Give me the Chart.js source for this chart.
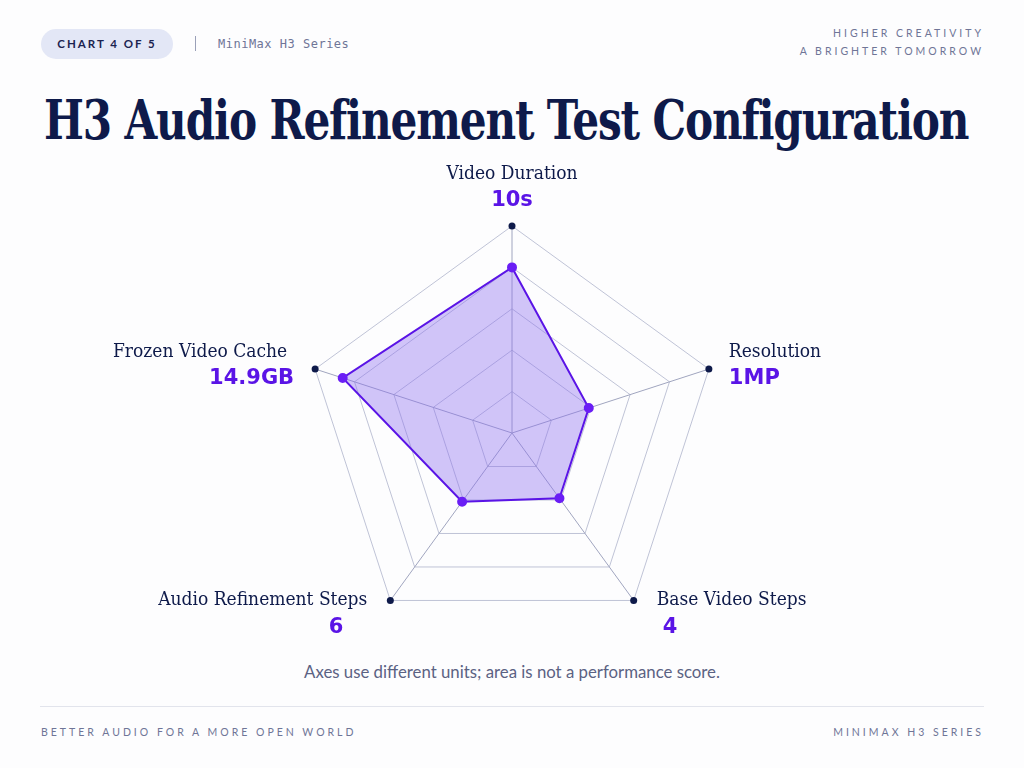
<!DOCTYPE html>
<html><head><meta charset="utf-8">
<script src="https://cdn.jsdelivr.net/npm/chart.js@4"></script>
<style>
body{margin:0;width:1024px;height:768px;background:#fdfdfe;font-family:Lato,sans-serif;position:relative;overflow:hidden}
.pill{position:absolute;left:41px;top:29px;width:132px;height:30px;border-radius:15px;background:#e3e7f6;color:#1b2350;font:700 11.5px Lato;letter-spacing:2px;line-height:30px;text-align:center}
.sep{position:absolute;left:195px;top:36px;width:1px;height:15px;background:#9aa0b8}
.series{position:absolute;left:218px;top:37px;font:12px "DejaVu Sans Mono",monospace;color:#6f7597;letter-spacing:0.5px}
.tr{position:absolute;right:40px;top:24px;text-align:right;font:10.5px Lato;color:#6f7597;letter-spacing:3px;line-height:18px}
h1{position:absolute;left:44px;top:88px;margin:0;font:700 54px "DejaVu Serif",serif;color:#0e1a4a;letter-spacing:-1.5px;white-space:nowrap;transform-origin:0 0}
.note{position:absolute;left:0;width:1024px;top:661px;text-align:center;font:16.8px Lato;color:#5b6283}
.line{position:absolute;left:40px;right:40px;top:706px;height:1px;background:#e2e4ec}
.fl,.fr{position:absolute;top:726px;font:10.5px Lato;color:#6f7597;letter-spacing:3px}
.fl{left:41px}.fr{right:40px}
canvas{position:absolute;left:0;top:160px}
</style></head><body>
<div class="pill">CHART 4 OF 5</div><div class="sep"></div><div class="series">MiniMax H3 Series</div>
<div class="tr">HIGHER CREATIVITY<br>A BRIGHTER TOMORROW</div>
<h1 id="t">H3 Audio Refinement Test Configuration</h1>
<canvas id="c" width="1024" height="500" style="width:1024px;height:500px"></canvas>
<div class="note">Axes use different units; area is not a performance score.</div>
<div class="line"></div>
<div class="fl">BETTER AUDIO FOR A MORE OPEN WORLD</div>
<div class="fr">MINIMAX H3 SERIES</div>
<script>
const t=document.getElementById('t');t.style.transform='scaleX('+(924/t.offsetWidth)+')';
const categories=["Video Duration","Resolution","Base Video Steps","Audio Refinement Steps","Frozen Video Cache"];
const valueLabels=["10s","1MP","4","6","14.9GB"];
const normalized=[0.80,0.39,0.39,0.41,0.86];
const axisMax=[1,1,1,1,1];

const labelPlugin={id:'lbl',afterDraw(chart){
  const s=chart.scales.r,ctx=chart.ctx;ctx.save();
  const cfg=[
    {dx:0,dy:-52,al:'center',vdx:0},
    {dx:20,dy:-17,al:'left',vdx:0},
    {dx:23,dy:0,al:'left',vdx:6},
    {dx:-23,dy:0,al:'right',vdx:-24},
    {dx:-21,dy:-17,al:'right',vdx:0,clip:true}];
  categories.forEach((c,i)=>{
    const p=s.getPointPositionForValue(i,s.max);const k=cfg[i];
    let x=p.x+k.dx,y=p.y+k.dy;
    ctx.font='19px "DejaVu Serif",serif';ctx.fillStyle='#0e1a4a';ctx.textBaseline='middle';
    ctx.save();ctx.translate(x,y);ctx.scale(0.9,1);
    if(k.clip){ctx.beginPath();ctx.rect(-300,-20,300,40);ctx.clip();ctx.textAlign='left';ctx.fillText(c,(113-x)/0.9,0);}
    else{ctx.textAlign=k.al;ctx.fillText(c,0,0);}
    ctx.restore();
    ctx.font='bold 21px "DejaVu Sans",Lato,sans-serif';ctx.fillStyle='#5a14e6';ctx.textAlign=k.al;
    ctx.fillText(valueLabels[i],x+k.vdx,y+27);
  });ctx.restore();}};

new Chart(document.getElementById('c'),{type:'radar',
 data:{labels:categories,datasets:[
  {data:normalized,borderColor:'#5a14e6',borderWidth:2,backgroundColor:'rgba(140,110,240,0.4)',pointBackgroundColor:'#6a1ef5',pointBorderColor:'#6a1ef5',pointRadius:4},
  {data:axisMax,showLine:false,fill:false,borderWidth:0,pointBackgroundColor:'#0e1a4a',pointBorderColor:'#0e1a4a',pointRadius:3.5}]},
 options:{responsive:false,animation:false,devicePixelRatio:1,
  layout:{padding:{top:66,bottom:20}},
  plugins:{legend:{display:false},tooltip:{enabled:false}},
  scales:{r:{min:0,max:1,ticks:{display:false,stepSize:0.2},
    pointLabels:{display:false},
    grid:{color:'#bfc3d6',lineWidth:1},angleLines:{color:'#a0a5bf'}}}},
 plugins:[labelPlugin]});
</script>
</body></html>
